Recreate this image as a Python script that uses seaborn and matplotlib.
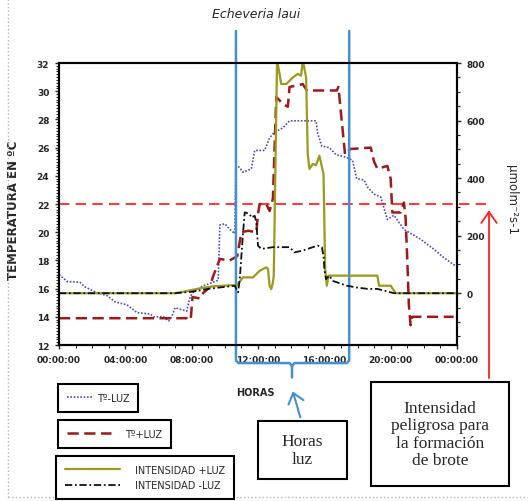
import numpy as np
import pandas as pd
import seaborn as sns
import matplotlib
matplotlib.use('Agg')
import matplotlib.pyplot as plt
from matplotlib.patches import Rectangle
from matplotlib.lines import Line2D
from matplotlib.ticker import MultipleLocator

# T-LUZ (sin luz) : temperatura
horas_t_sin = [0, 0.5, 1.25, 1.6, 2.2, 2.9, 3.4, 4.1, 4.7, 5.5,
               5.7, 6.3, 6.6, 6.8, 7.0, 7.7, 7.9, 8.1, 8.7, 9.3,
               9.6, 9.7, 10.0, 10.3, 10.6, 10.67, 10.8, 11.1, 11.6, 11.8,
               12.4, 12.7, 13.0, 13.5, 13.9, 15.5, 15.6, 15.85, 16.3, 16.7,
               17.35, 17.7, 17.95, 18.4, 18.6, 19.0, 19.4, 19.8, 20.2, 20.8,
               21.8, 22.6, 23.2, 23.8, 24.0]
temp_sin = [17.0, 16.5, 16.45, 16.1, 15.75, 15.5, 15.05, 14.85, 14.3, 14.2,
            14.0, 14.0, 13.7, 14.0, 14.65, 14.4, 15.4, 15.75, 16.2, 16.45,
            16.6, 20.5, 20.6, 20.2, 19.9, 24.7, 24.7, 24.25, 24.5, 25.8,
            25.8, 26.7, 27.1, 27.4, 27.9, 27.9, 27.0, 26.1, 26.0, 25.5,
            25.3, 25.1, 23.8, 23.7, 23.2, 22.7, 22.5, 20.9, 21.2, 20.2,
            19.5, 18.8, 18.2, 17.7, 17.6]

# T+LUZ (con luz) : temperatura
horas_t_con = [0, 7.7, 7.8, 7.95, 8.05, 8.5, 8.7, 9.1, 9.3, 9.7,
               10.3, 10.6, 10.75, 11.0, 11.4, 11.9, 12.0, 12.1, 12.5, 12.7,
               12.9, 13.1, 13.5, 13.8, 13.9, 14.3, 14.7, 14.95, 16.75, 16.85,
               17.05, 17.25, 17.55, 18.8, 19.0, 19.2, 19.8, 20.0, 20.1, 20.6,
               20.8, 20.9, 21.0, 21.1, 21.2, 21.3, 23.8]
temp_con = [13.9, 13.9, 13.75, 13.9, 15.4, 15.3, 15.7, 16.1, 16.9, 18.1,
            18.0, 18.2, 18.3, 20.0, 20.1, 20.0, 21.3, 22.0, 22.0, 21.5,
            22.4, 29.6, 29.1, 28.9, 30.3, 30.4, 30.5, 30.05, 30.05, 30.3,
            27.9, 25.5, 25.9, 26.0, 25.0, 24.5, 24.7, 23.8, 21.4, 21.4,
            22.1, 21.0, 18.1, 14.8, 13.4, 14.0, 14.0]

# INTENSIDAD +LUZ (umol m-2 s-1)
horas_i_con = [0, 7.0, 7.5, 8.5, 9.3, 10.5, 10.7, 11.1, 11.7, 12.1,
               12.5, 12.6, 12.7, 12.8, 12.9, 12.95, 13.15, 13.3, 13.4, 13.7,
               13.9, 14.1, 14.4, 14.6, 14.7, 14.9, 15.0, 15.1, 15.3, 15.5,
               15.7, 15.95, 16.05, 16.15, 16.25, 19.2, 19.3, 20.0, 20.3, 24.0]
int_con = [0, 0, 5, 17, 24, 28, 26, 55, 55, 78,
           90, 84, 26, 14, 38, 60, 810, 762, 727, 727,
           738, 750, 762, 756, 810, 750, 484, 432, 449, 445,
           478, 414, 84, 26, 61, 61, 26, 26, 0, 0]

# INTENSIDAD -LUZ
horas_i_sin = [0, 7.0, 8.0, 9.0, 10.0, 10.6, 10.8, 10.9, 11.0, 11.1,
               11.2, 11.5, 11.6, 11.8, 11.9, 12.0, 12.2, 12.9, 13.9, 14.2,
               14.7, 15.0, 15.3, 15.6, 15.85, 15.95, 16.0, 16.1, 16.3, 16.5,
               17.35, 17.95, 18.6, 19.2, 20.2, 24.0]
int_sin = [0, 0, 5, 15, 22, 26, 3, 49, 130, 212,
           281, 275, 263, 269, 246, 165, 154, 160, 160, 142,
           148, 154, 160, 165, 160, 130, 84, 49, 61, 43,
           26, 20, 15, 15, 0, 0]

tick_horas = [0, 4, 8, 12, 16, 20, 24]
tick_labels = ['00:00:00', '04:00:00', '08:00:00', '12:00:00',
               '16:00:00', '20:00:00', '00:00:00']

df_ts = pd.DataFrame({'hora': horas_t_sin, 'valor': temp_sin})
df_tc = pd.DataFrame({'hora': horas_t_con, 'valor': temp_con})
df_ic = pd.DataFrame({'hora': horas_i_con, 'valor': int_con})
df_is = pd.DataFrame({'hora': horas_i_sin, 'valor': int_sin})

sns.set_style('ticks')
plt.rcParams['font.family'] = ['DejaVu Sans']

fig = plt.figure(figsize=(5.28, 5.02), dpi=100)
ax = fig.add_axes([59/528, 1-346/502, 398/528, 282/502])
ax2 = ax.twinx()

sns.lineplot(data=df_ts, x='hora', y='valor', ax=ax, estimator=None, sort=False,
             color='#4a4ac8', lw=1.2, linestyle=(0, (1, 1)))
l_ts = ax.lines[-1]
sns.lineplot(data=df_tc, x='hora', y='valor', ax=ax, estimator=None, sort=False,
             color='#a01818', lw=1.8, linestyle=(0, (4.5, 2.2)))
l_tc = ax.lines[-1]
sns.lineplot(data=df_ic, x='hora', y='valor', ax=ax2, estimator=None, sort=False,
             color='#9a9a1e', lw=1.6)
l_ic = ax2.lines[-1]
sns.lineplot(data=df_is, x='hora', y='valor', ax=ax2, estimator=None, sort=False,
             color='#111111', lw=1.3, linestyle=(0, (4, 1.5, 1, 1.5)))
l_is = ax2.lines[-1]

ax.set_xlim(0, 24)
ax.set_ylim(12, 32)
ax2.set_ylim(-180, 800)
ax.set_xticks(tick_horas)
ax.set_xticklabels(tick_labels)
ax.xaxis.set_minor_locator(MultipleLocator(1))
ax.set_yticks(range(12, 33, 2))
ax.yaxis.set_minor_locator(MultipleLocator(0.2))
ax2.set_yticks(range(0, 801, 200))
ax2.yaxis.set_minor_locator(MultipleLocator(50))

for a in (ax, ax2):
    a.tick_params(which='major', length=3, width=1, labelsize=6.5, pad=4)
    a.tick_params(which='minor', length=2, width=0.8)
    for lab in a.get_xticklabels() + a.get_yticklabels():
        lab.set_fontweight('bold')
    for s in a.spines.values():
        s.set_visible(True)
        s.set_linewidth(1.5)
        s.set_color('black')
ax.spines['top'].set_color('#444444')

ax.set_xlabel('HORAS', fontsize=7, fontweight='bold')
ax.xaxis.set_label_coords(0.4925, -0.149)
ax.set_ylabel('TEMPERATURA EN ºC', fontsize=8.5, fontweight='bold')
ax.yaxis.set_label_coords(-0.098, 0.482)
ax2.set_ylabel('µmolm⁻²s-1', fontsize=8.5, rotation=270, va='center')
ax2.yaxis.set_label_coords(1.136, 0.518)

fig.text(0.485, 1-14/502, 'Echeveria laui', style='italic', fontsize=9,
         ha='center', va='center')

# linea de temperatura peligrosa y flecha
ax.plot([0, 25.93], [22, 22], color='#ff3b3b', lw=1.5, linestyle=(0, (5, 3)),
        clip_on=False, zorder=1)
ax.annotate('', xy=(25.93, 21.75), xytext=(25.93, 9.45), annotation_clip=False,
            arrowprops=dict(arrowstyle='->,head_length=0.5,head_width=0.35',
                            color='#ff2020', lw=1.3, mutation_scale=16))

# horas luz (llave)
azul = '#4590d4'
ax.plot([10.67, 10.67, 10.82, 13.9, 14.05, 14.05], [34.27, 10.9, 10.72, 10.72, 10.5, 9.7],
        color=azul, lw=1.8, clip_on=False, zorder=5)
ax.plot([17.5, 17.5, 17.35, 14.2, 14.05], [34.27, 10.9, 10.72, 10.72, 10.5],
        color=azul, lw=1.8, clip_on=False, zorder=5)
ax.annotate('', xy=(14.05, 8.9), xytext=(14.6, 6.68), annotation_clip=False,
            arrowprops=dict(arrowstyle='->,head_length=0.5,head_width=0.4',
                            color=azul, lw=1.5, mutation_scale=14))

# cajas de texto
fig.add_artist(Rectangle((258/528, 1-480/502), 89/528, 58/502, transform=fig.transFigure,
                         fill=False, ec='black', lw=1.5))
fig.text(302.5/528, 1-451/502, 'Horas\nluz', family='Liberation Serif', fontsize=12.5,
         ha='center', va='center', linespacing=1.15)
fig.add_artist(Rectangle((371/528, 1-487/502), 138/528, 104/502, transform=fig.transFigure,
                         fill=False, ec='black', lw=1.5))
fig.text(440/528, 1-435/502, 'Intensidad\npeligrosa para\nla formación\nde brote',
         family='Liberation Serif', fontsize=12.5, ha='center', va='center', linespacing=1.1)

# leyendas separadas
def caja(handles, labels, x, y, hl, tp):
    leg = fig.legend(handles, labels, loc='upper left', bbox_to_anchor=(x/528, 1-y/502),
                     bbox_transform=fig.transFigure, borderaxespad=0, frameon=True,
                     fancybox=False, edgecolor='black', framealpha=1, fontsize=7,
                     handlelength=hl, handletextpad=tp, borderpad=0.9, labelspacing=0.55)
    leg.get_frame().set_linewidth(1.5)
    return leg

caja([l_ts], ['Tº-LUZ'], 58, 385, 2.6, 0.5)
caja([l_tc], ['Tº+LUZ'], 58, 421, 4.6, 1.4)
caja([l_ic, l_is], ['INTENSIDAD +LUZ', 'INTENSIDAD -LUZ'], 56, 457, 5.7, 1.5)

# marco punteado
fig.add_artist(Line2D([8/528, 8/528], [1, 1-498/502], transform=fig.transFigure,
                      color='#b5b5b5', lw=1, linestyle=':'))
fig.add_artist(Line2D([8/528, 1], [1-498/502, 1-498/502], transform=fig.transFigure,
                      color='#b5b5b5', lw=1, linestyle=':'))

plt.savefig('out.png', dpi=100)
